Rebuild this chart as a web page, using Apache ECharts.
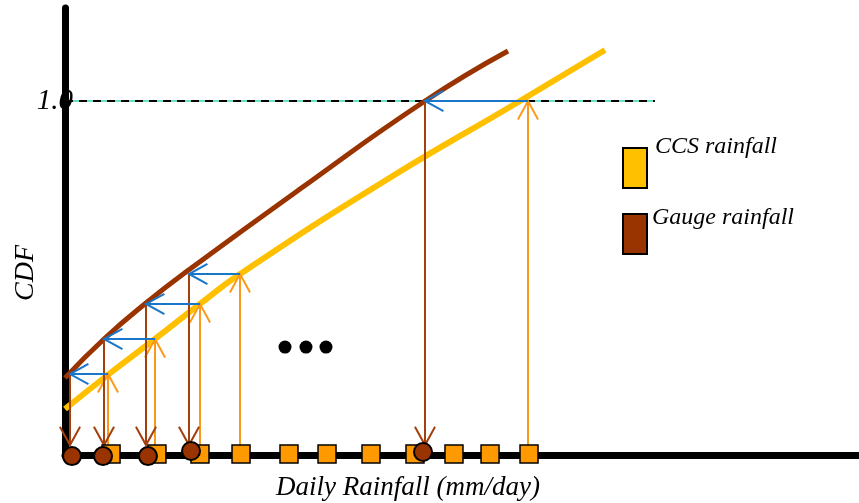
<!DOCTYPE html>
<html>
<head>
<meta charset="utf-8">
<script src="https://cdn.jsdelivr.net/npm/echarts@6/dist/echarts.min.js"></script>
<style>html,body{margin:0;padding:0;background:#fff}#c{width:859px;height:503px}</style>
</head>
<body>
<div id="c"></div>
<script>
// ---- data (x: arbitrary rainfall units 0..100, y: CDF) ----
const gaugeCurve = [[0,0.2175],[4.912,0.3277],[10.202,0.4294],[15.743,0.5254],[29.597,0.7514],[45.34,1.0],[55.793,1.1412]];
const ccsCurve   = [[0,0.1299],[5.542,0.2288],[11.335,0.3277],[17.003,0.4266],[22.04,0.5113],[40.05,0.7712],[57.305,1.0],[68.01,1.1441]];
const levels  = [0.2288, 0.3277, 0.4266, 0.5113, 1.0];
const ccsX    = [5.416, 11.335, 17.003, 22.04, 58.312];
const gaugeX  = [0.63, 4.912, 10.202, 15.617, 45.34];
const arrowBase = 0.028;
const squaresX = [5.8, 11.58, 17.0, 22.17, 28.21, 33.0, 38.54, 44.08, 48.99, 53.53, 58.44];
const squaresY = 0.0028;
const circlesX = [0.88, 4.79, 10.45, 15.87, 45.09];
const circlesY = [-0.003, -0.003, -0.003, 0.0113, 0.0085];
const dotsX = [27.71, 30.35, 32.87];
const dotsY = 0.305;
const refLineX = [0, 74.3];
const refLineY = 1.0;

const serif = "'Liberation Serif', 'Times New Roman', serif";

function arrowSeries(items, color, width, z) {
  return {
    type: 'custom', z: z, silent: true, clip: false,
    encode: {x: [0, 2], y: [1, 3]},
    data: items,
    renderItem: function (params, api) {
      const p1 = api.coord([api.value(0), api.value(1)]);
      const p2 = api.coord([api.value(2), api.value(3)]);
      const ang = Math.atan2(p2[1] - p1[1], p2[0] - p1[0]);
      const L = 21, a = 0.5;
      const h1 = [p2[0] - L * Math.cos(ang - a), p2[1] - L * Math.sin(ang - a)];
      const h2 = [p2[0] - L * Math.cos(ang + a), p2[1] - L * Math.sin(ang + a)];
      return {
        type: 'group',
        children: [
          {type: 'line', shape: {x1: p1[0], y1: p1[1], x2: p2[0], y2: p2[1]}, style: {stroke: color, lineWidth: width}},
          {type: 'polyline', shape: {points: [h1, p2, h2]}, style: {stroke: color, lineWidth: width, fill: null}}
        ]
      };
    }
  };
}

const blueArrows = levels.map((y, i) => [ccsX[i], y, gaugeX[i], y]);
const orangeArrows = levels.map((y, i) => [ccsX[i], arrowBase, ccsX[i], y]);
const brownArrows = levels.map((y, i) => [gaugeX[i], y, gaugeX[i], arrowBase]);

const chart = echarts.init(document.getElementById('c'), null, {renderer: 'canvas'});
chart.setOption({
  animation: false,
  backgroundColor: '#fff',
  grid: {left: 65, right: 0, top: 8, bottom: 48},
  xAxis: {
    type: 'value', min: 0, max: 100,
    axisLine: {lineStyle: {color: '#000', width: 7}},
    axisTick: {show: false}, axisLabel: {show: false}, splitLine: {show: false}
  },
  yAxis: {
    type: 'value', min: 0, max: 1.2627, interval: 1,
    axisLine: {show: true, lineStyle: {color: '#000', width: 7}},
    axisTick: {show: false}, splitLine: {show: false},
    axisLabel: {
      margin: -8,
      formatter: v => (Math.abs(v - 1) < 1e-9 ? '1.0' : ''),
      fontFamily: serif, fontStyle: 'italic', fontSize: 29, color: '#000'
    }
  },
  series: [
    {type: 'line', z: 1, silent: true, symbol: 'none', data: refLineX.map(x => [x, refLineY]),
     lineStyle: {color: '#66e0c6', width: 2}},
    {type: 'line', z: 1, silent: true, symbol: 'none', data: refLineX.map(x => [x, refLineY]),
     lineStyle: {color: '#000', width: 2, type: [8, 6]}},
    {type: 'line', z: 2, silent: true, symbol: 'none', smooth: 0.5, data: ccsCurve,
     lineStyle: {color: '#ffc000', width: 6}},
    {type: 'line', z: 2, silent: true, symbol: 'none', smooth: 0.5, data: gaugeCurve,
     lineStyle: {color: '#993300', width: 5}},
    arrowSeries(orangeArrows, '#fb9a1a', 2, 3),
    arrowSeries(brownArrows, '#a2400e', 2, 3),
    arrowSeries(blueArrows, '#1a76c8', 2, 3),
    {type: 'scatter', z: 4, silent: true, clip: false, symbol: 'rect', symbolSize: 18,
     data: squaresX.map(x => [x, squaresY]),
     itemStyle: {color: '#ff9900', borderColor: '#000', borderWidth: 1.5, opacity: 1}},
    {type: 'scatter', z: 5, silent: true, clip: false, symbol: 'circle', symbolSize: 18,
     data: circlesX.map((x, i) => [x, circlesY[i]]),
     itemStyle: {color: '#993300', borderColor: '#000', borderWidth: 2, opacity: 1}},
    {type: 'scatter', z: 5, silent: true, clip: false, symbol: 'circle', symbolSize: 13,
     data: dotsX.map(x => [x, dotsY]),
     itemStyle: {color: '#000', opacity: 1}}
  ],
  graphic: [
    {type: 'text', x: 26, y: 273, rotation: Math.PI / 2,
     style: {text: 'CDF', font: 'italic 28px ' + serif, fill: '#000', align: 'center', verticalAlign: 'middle'}},
    {type: 'text', x: 408, y: 488,
     style: {text: 'Daily Rainfall (mm/day)', font: 'italic 27px ' + serif, fill: '#000', align: 'center', verticalAlign: 'middle'}},
    {type: 'rect', shape: {x: 623, y: 148, width: 24, height: 40},
     style: {fill: '#ffc000', stroke: '#000', lineWidth: 2}},
    {type: 'rect', shape: {x: 623, y: 214, width: 24, height: 40},
     style: {fill: '#993300', stroke: '#000', lineWidth: 2}},
    {type: 'text', x: 655, y: 135,
     style: {text: 'CCS rainfall', font: 'italic 24px ' + serif, fill: '#000', align: 'left', verticalAlign: 'top'}},
    {type: 'text', x: 652, y: 206,
     style: {text: 'Gauge rainfall', font: 'italic 24px ' + serif, fill: '#000', align: 'left', verticalAlign: 'top'}}
  ]
});
</script>
</body>
</html>
